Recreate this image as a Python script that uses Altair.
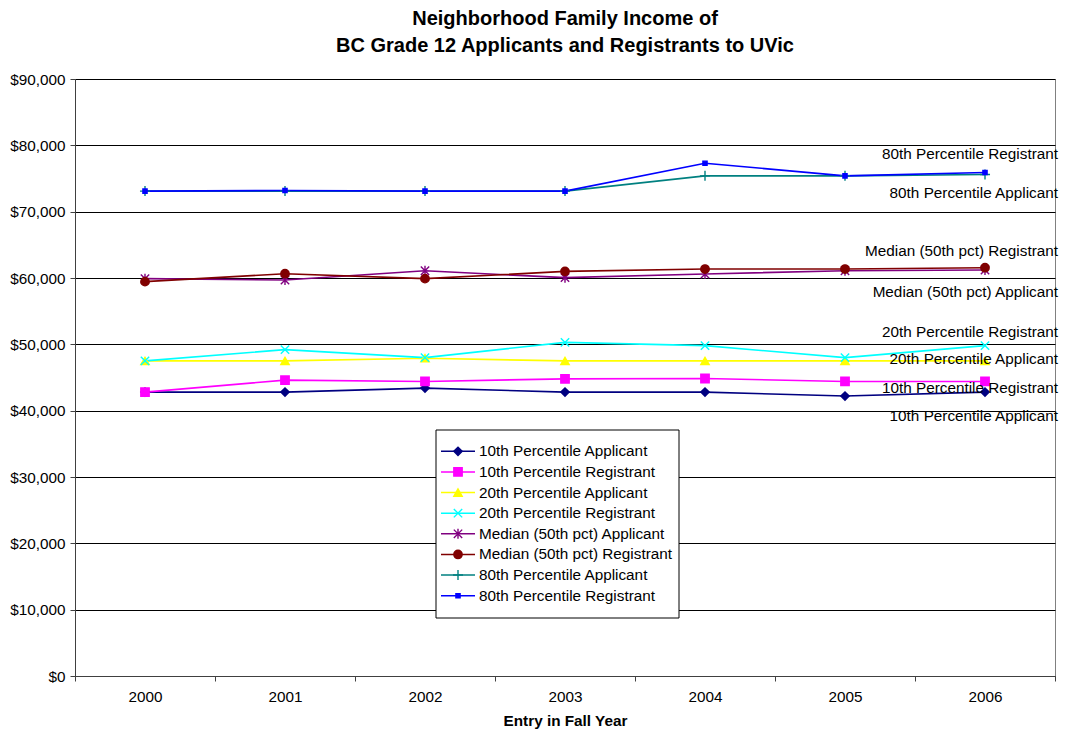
import altair as alt
import pandas as pd

years = ["2000", "2001", "2002", "2003", "2004", "2005", "2006"]
series_names = [
    "10th Percentile Applicant",
    "10th Percentile Registrant",
    "20th Percentile Applicant",
    "20th Percentile Registrant",
    "Median (50th pct) Applicant",
    "Median (50th pct) Registrant",
    "80th Percentile Applicant",
    "80th Percentile Registrant",
]
p10_app = [42800, 42800, 43400, 42800, 42800, 42200, 42800]
p10_reg = [42800, 44600, 44400, 44800, 44850, 44400, 44400]
p20_app = [47500, 47500, 47900, 47500, 47500, 47500, 47500]
p20_reg = [47500, 49200, 48000, 50300, 49800, 48000, 49800]
p50_app = [59900, 59700, 61100, 60050, 60600, 61100, 61200]
p50_reg = [59450, 60650, 59900, 61000, 61350, 61350, 61550]
p80_app = [73100, 73100, 73100, 73100, 75400, 75400, 75600]
p80_reg = [73100, 73200, 73100, 73100, 77300, 75400, 75900]
all_values = [p10_app, p10_reg, p20_app, p20_reg, p50_app, p50_reg, p80_app, p80_reg]

colors = ["#000080", "#FF00FF", "#FFFF00", "#00FFFF", "#800080", "#800000", "#008080", "#0000FF"]
shapes = [
    "diamond",
    "square",
    "triangle-up",
    "M-1,-1L1,1M-1,1L1,-1",
    "M-1,-1L1,1M-1,1L1,-1M0,-1.2L0,1.2",
    "circle",
    "M-1.2,0L1.2,0M0,-1.2L0,1.2",
    "M-0.5,-0.5L0.5,-0.5L0.5,0.5L-0.5,0.5Z",
]
# vertical offsets of the end-of-line labels (pixels)
label_dy = [24, 7, -2, -14, 22, -17, 18, -19]

rows = []
for name, vals in zip(series_names, all_values):
    for yr, v in zip(years, vals):
        rows.append({"year": yr, "value": v, "series": name})
df = pd.DataFrame(rows)
legend_df = pd.DataFrame({"series": series_names})

FONT = "Liberation Sans"
FS = 15.3

color_scale = alt.Scale(domain=series_names, range=colors)
shape_scale = alt.Scale(domain=series_names, range=shapes)

x_enc = alt.X(
    "year:O",
    title="Entry in Fall Year",
    scale=alt.Scale(paddingInner=0, paddingOuter=0),
    axis=alt.Axis(
        labelAngle=0, tickBand="extent", tickSize=5, labelPadding=8,
        titlePadding=9, labelFontSize=FS, titleFontSize=FS, titleFontWeight="bold",
        domainColor="#404040", tickColor="#404040", labelColor="#000", titleColor="#000",
        labelFont=FONT, titleFont=FONT, grid=False,
    ),
)
y_enc = alt.Y(
    "value:Q",
    title=None,
    scale=alt.Scale(domain=[0, 90000], nice=False),
    axis=alt.Axis(
        values=list(range(0, 90001, 10000)), format="$,.0f", tickSize=5, labelPadding=5,
        labelFontSize=FS, labelFont=FONT, labelColor="#000",
        domainColor="#404040", tickColor="#404040", grid=True, gridColor="#000",
        gridWidth=1,
    ),
)

base = alt.Chart(df)
lines = base.mark_line(strokeWidth=1.6).encode(
    x=x_enc, y=y_enc,
    color=alt.Color("series:N", scale=color_scale, legend=None),
    detail="series:N",
)
points = base.mark_point(filled=True, size=70, strokeWidth=1.4, opacity=1).encode(
    x=x_enc, y=y_enc,
    color=alt.Color("series:N", scale=color_scale, legend=None),
    stroke=alt.Stroke("series:N", scale=color_scale, legend=None),
    shape=alt.Shape("series:N", scale=shape_scale, legend=None),
)
label_layers = []
for name, dy in zip(series_names, label_dy):
    label_layers.append(
        base.transform_filter(
            (alt.datum.series == name) & (alt.datum.year == years[-1])
        ).mark_text(align="right", baseline="middle", dx=73, dy=dy, fontSize=FS, font=FONT, color="#000").encode(
            x=x_enc, y=y_enc, text="series:N"
        )
    )

main = alt.layer(lines, points, *label_layers)

lb = alt.Chart(legend_df)
ly = alt.Y("series:N", axis=None, sort=series_names,
           scale=alt.Scale(domain=series_names, range=[362, 527], padding=0))
box = alt.Chart(pd.DataFrame({"a": [0]})).mark_rect(fill="white", stroke="#000", strokeWidth=1).encode(
    x=alt.value(361), x2=alt.value(604), y=alt.value(351), y2=alt.value(539)
)
leg_rules = lb.mark_rule(strokeWidth=1.6).encode(
    y=ly, x=alt.value(366), x2=alt.value(400),
    color=alt.Color("series:N", scale=color_scale, legend=None),
)
leg_points = lb.mark_point(filled=True, size=70, strokeWidth=1.4, opacity=1).encode(
    y=ly, x=alt.value(383),
    color=alt.Color("series:N", scale=color_scale, legend=None),
    stroke=alt.Stroke("series:N", scale=color_scale, legend=None),
    shape=alt.Shape("series:N", scale=shape_scale, legend=None),
)
leg_text = lb.mark_text(align="left", baseline="middle", fontSize=FS, font=FONT, color="#000").encode(
    y=ly, x=alt.value(404), text="series:N"
)
legend = alt.layer(box, leg_rules, leg_points, leg_text)

chart = alt.layer(main, legend).resolve_scale(x="independent", y="independent").properties(
    width=980,
    height=597,
    title=alt.TitleParams(
        ["Neighborhood Family Income of", "BC Grade 12 Applicants and Registrants to UVic"],
        fontSize=20, font=FONT, fontWeight="bold", anchor="middle", lineHeight=27,
        offset=16, color="#000",
    ),
    autosize=alt.AutoSizeParams(type="none"),
    padding={"left": 67, "top": 71, "right": 4, "bottom": 54},
).configure_view(stroke="#808080", strokeWidth=1)

chart.save("out.html", embed_options={"renderer": "svg", "actions": False})
